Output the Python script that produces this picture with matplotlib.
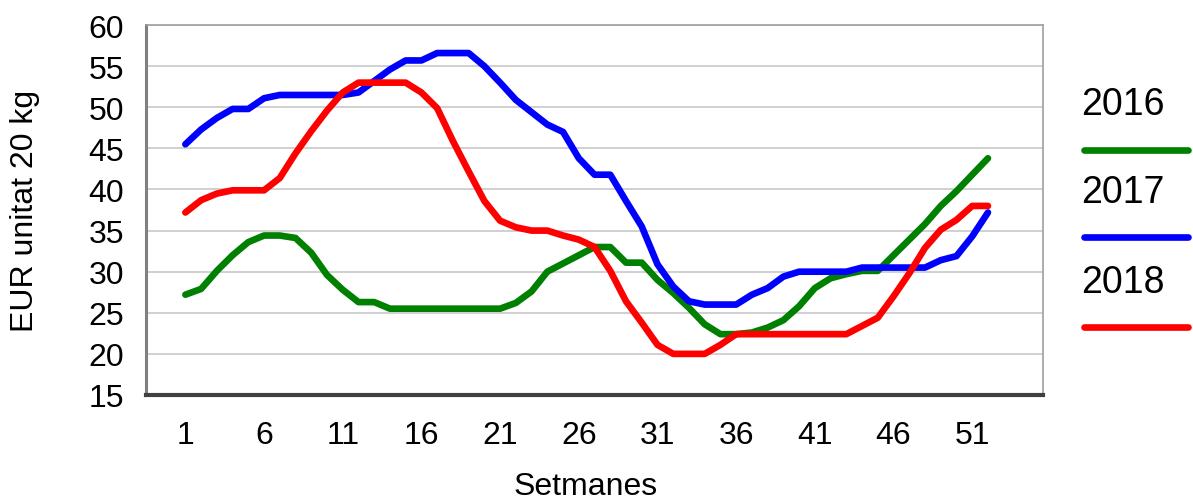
import matplotlib
matplotlib.use("Agg")
import matplotlib.pyplot as plt
from matplotlib.lines import Line2D
import numpy as np

plt.rcParams["font.family"] = ["Liberation Sans", "DejaVu Sans"]

weeks = np.arange(1, 53)

v2016 = [27.2, 27.9, 30.1, 32.0, 33.6, 34.4, 34.4, 34.1, 32.3, 29.6,
         27.8, 26.3, 26.3, 25.5, 25.5, 25.5, 25.5, 25.5, 25.5, 25.5,
         25.5, 26.2, 27.6, 30.0, 31.0, 32.0, 33.0, 33.0, 31.1, 31.1,
         29.0, 27.4, 25.6, 23.6, 22.4, 22.4, 22.6, 23.2, 24.1, 25.8,
         28.0, 29.2, 29.7, 30.1, 30.1, 32.0, 33.9, 35.8, 38.0, 39.8,
         41.8, 43.8]
v2017 = [45.5, 47.3, 48.7, 49.8, 49.8, 51.1, 51.5, 51.5, 51.5, 51.5,
         51.5, 51.8, 53.2, 54.6, 55.7, 55.7, 56.6, 56.6, 56.6, 55.0,
         53.0, 50.9, 49.4, 47.9, 47.0, 43.8, 41.8, 41.8, 38.6, 35.5,
         30.9, 28.2, 26.4, 26.0, 26.0, 26.0, 27.2, 28.0, 29.4, 30.0,
         30.0, 30.0, 30.0, 30.5, 30.5, 30.5, 30.5, 30.5, 31.4, 31.9,
         34.3, 37.2]
v2018 = [37.2, 38.7, 39.5, 39.9, 39.9, 39.9, 41.4, 44.4, 47.1, 49.6,
         51.8, 53.0, 53.0, 53.0, 53.0, 51.8, 49.9, 45.9, 42.2, 38.6,
         36.2, 35.4, 35.0, 35.0, 34.4, 33.9, 33.0, 30.1, 26.4, 23.8,
         21.1, 20.0, 20.0, 20.0, 21.1, 22.4, 22.4, 22.4, 22.4, 22.4,
         22.4, 22.4, 22.4, 23.4, 24.4, 27.0, 29.8, 32.9, 35.1, 36.3,
         38.0, 38.0]

series = [("2016", v2016, "#008000"),
          ("2017", v2017, "#0000FF"),
          ("2018", v2018, "#FF0000")]

xticks = [1, 6, 11, 16, 21, 26, 31, 36, 41, 46, 51]
yticks = [15, 20, 25, 30, 35, 40, 45, 50, 55, 60]

fig = plt.figure(figsize=(11.93, 5.02), dpi=100)
ax = fig.add_axes([0.1224, 0.2112, 0.7519, 0.7368])

for name, vals, col in series:
    ax.plot(weeks, vals, color=col, lw=4.8, solid_capstyle="round",
            solid_joinstyle="round", zorder=3)

ax.set_xlim(-1.5, 55.5)
ax.set_ylim(15, 60)
ax.set_xticks(xticks)
ax.set_yticks(yticks)
ax.tick_params(length=0, labelsize=23)
ax.tick_params(axis="y", pad=16)
ax.tick_params(axis="x", pad=18)
ax.grid(axis="y", color="#c8c8c8", lw=1.2)
ax.set_axisbelow(True)

for side in ["top", "right"]:
    ax.spines[side].set_color("#a0a0a0")
    ax.spines[side].set_linewidth(1.2)
ax.spines["left"].set_color("#808080")
ax.spines["left"].set_linewidth(2.2)
ax.spines["bottom"].set_color("#404040")
ax.spines["bottom"].set_linewidth(3)

ax.set_ylabel("EUR unitat 20 kg", fontsize=23, va="center")
ax.yaxis.set_label_coords(-0.135, 0.5)
ax.set_xlabel("Setmanes", fontsize=23, va="center")
ax.xaxis.set_label_coords(0.49, -0.245)

# legend drawn at the right, text above each line sample
leg_top = [0.79, 0.615, 0.437]
for (name, vals, col), yt in zip(series, leg_top):
    fig.text(0.906, yt, name, fontsize=27, va="center", ha="left")
    y_line = yt - 0.09
    fig.add_artist(Line2D([0.909, 0.996], [y_line, y_line], color=col, lw=4.8,
                          solid_capstyle="round", transform=fig.transFigure))

fig.savefig("out.png", dpi=100)
